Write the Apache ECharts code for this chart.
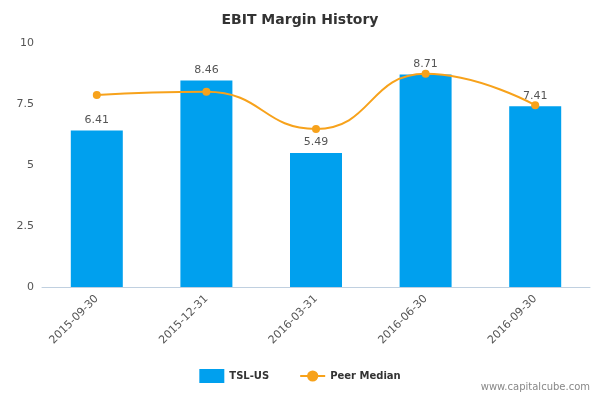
<!DOCTYPE html>
<html>
<head>
<meta charset="utf-8">
<script src="https://cdn.jsdelivr.net/npm/echarts@6/dist/echarts.min.js"></script>
</head>
<body style="margin:0">
<div id="chart" style="width:600px;height:400px;"></div>
<script>
var dates = ['2015-09-30', '2015-12-31', '2016-03-31', '2016-06-30', '2016-09-30'];
var tslValues = [6.41, 8.46, 5.49, 8.71, 7.41];
var peerMedian = [7.87, 8.0, 6.48, 8.74, 7.45];

var chart = echarts.init(document.getElementById('chart'));
chart.setOption({
    title: {
        text: 'EBIT Margin History',
        left: 'center', top: 8,
        textStyle: {fontFamily: 'DejaVu Sans', fontSize: 14, fontWeight: 'bold', color: '#333'}
    },
    graphic: [{
        type: 'text', right: 10, bottom: 8,
        style: {text: 'www.capitalcube.com', fill: '#888', font: '10px DejaVu Sans'}
    }],
    legend: {
        bottom: 12, itemGap: 30,
        textStyle: {fontFamily: 'DejaVu Sans', fontSize: 10, fontWeight: 'bold', color: '#333'},
        data: [{name: 'TSL-US', icon: 'rect'}, {name: 'Peer Median'}]
    },
    grid: {left: 42, right: 10, top: 43, bottom: 113},
    xAxis: {
        type: 'category', data: dates,
        axisLine: {lineStyle: {color: '#c0d0e0'}},
        axisTick: {lineStyle: {color: '#c0d0e0'}, length: 8},
        axisLabel: {rotate: 45, color: '#555', fontFamily: 'DejaVu Sans', fontSize: 11, margin: 10}
    },
    yAxis: {
        type: 'value', min: 0, max: 10, interval: 2.5,
        splitLine: {show: false},
        axisLabel: {color: '#555', fontFamily: 'DejaVu Sans', fontSize: 11,
            formatter: function (v) { return String(v); }}
    },
    series: [{
        name: 'TSL-US', type: 'bar', data: tslValues, barWidth: 52,
        itemStyle: {color: '#00a0ee'},
        label: {show: true, position: 'top', color: '#555', fontFamily: 'DejaVu Sans', fontSize: 11}
    }, {
        name: 'Peer Median', type: 'line', data: peerMedian, smooth: true,
        symbol: 'circle', symbolSize: 8,
        lineStyle: {color: '#f7a21b', width: 2},
        itemStyle: {color: '#f7a21b'}
    }]
});
</script>
</body>
</html>
